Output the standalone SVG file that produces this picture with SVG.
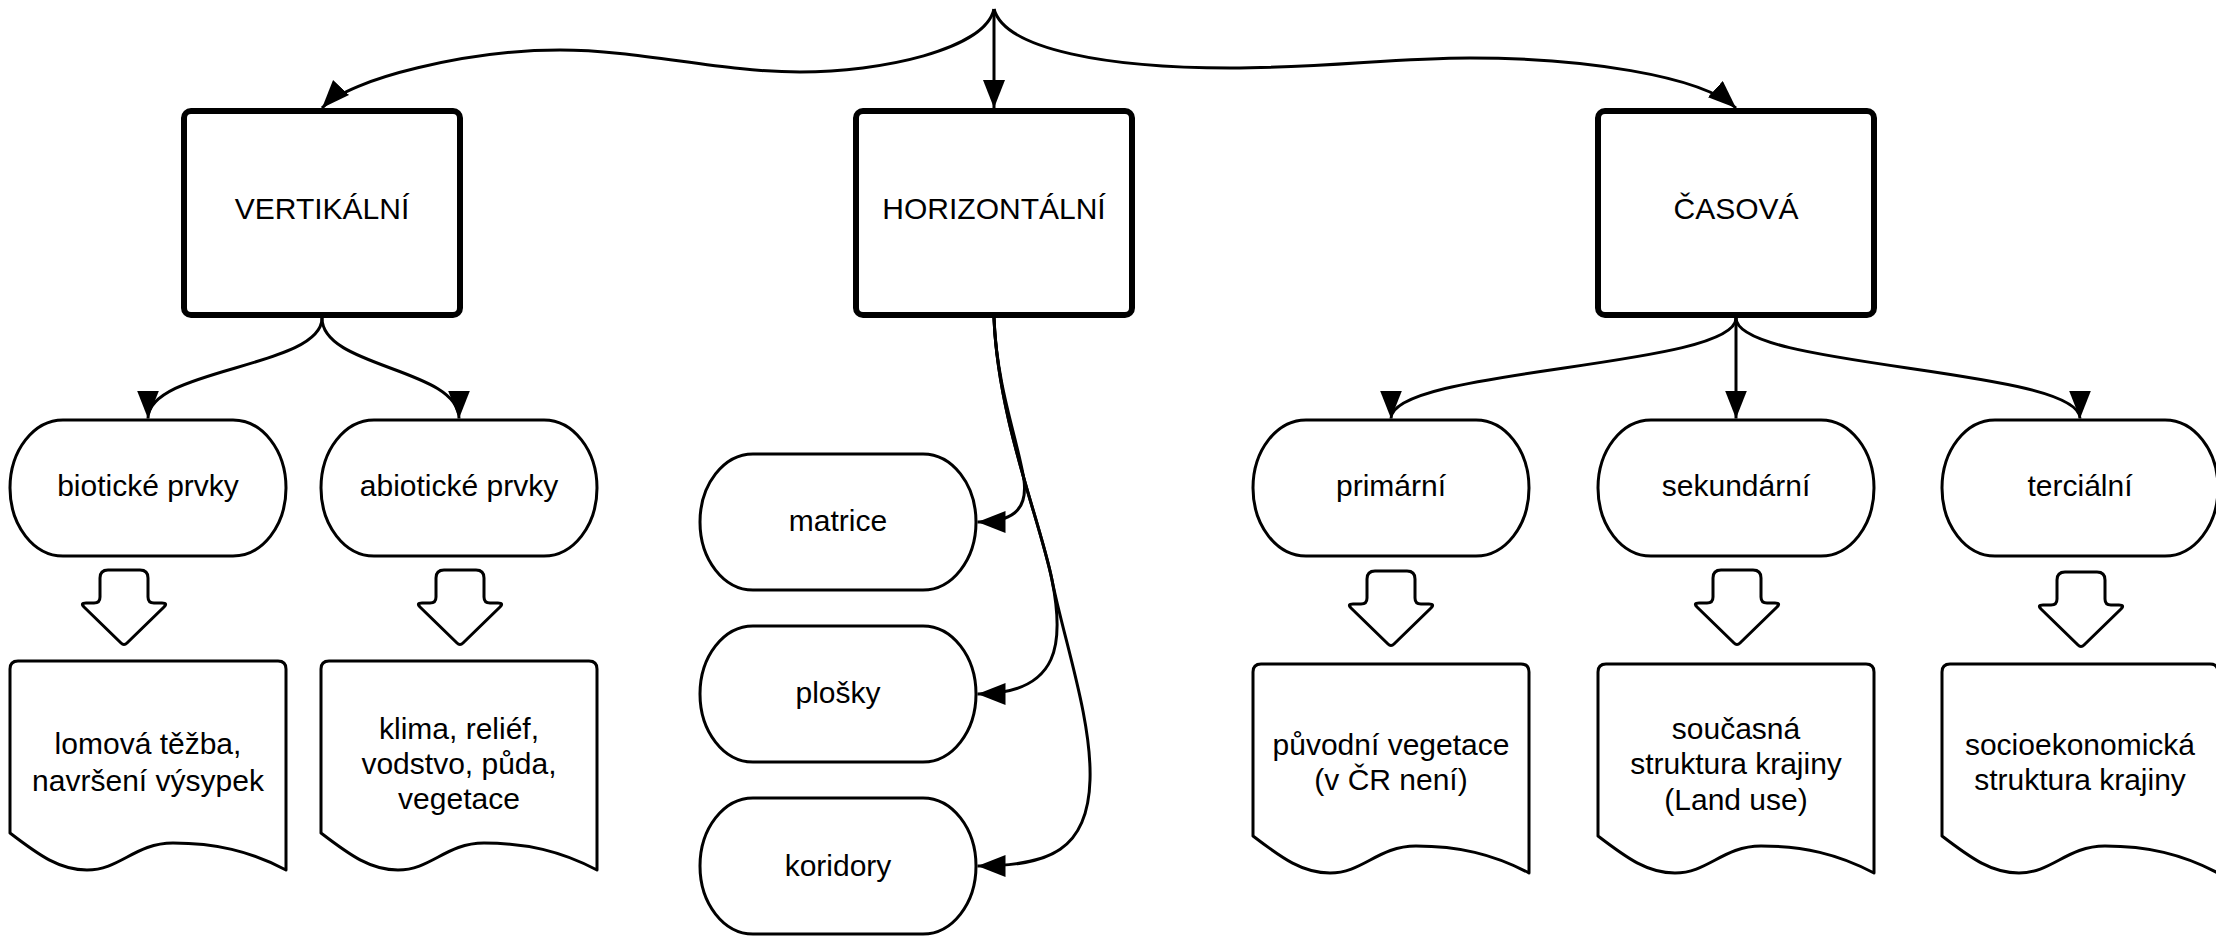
<svg xmlns="http://www.w3.org/2000/svg" width="2216" height="939" viewBox="0 0 2216 939">
<style>
.box{fill:#fff;stroke:#000;stroke-width:6}
.pill{fill:#fff;stroke:#000;stroke-width:3}
.doc{fill:#fff;stroke:#000;stroke-width:3;stroke-linejoin:round}
.barrow{fill:#fff;stroke:#000;stroke-width:3;stroke-linejoin:round}
.conn{fill:none;stroke:#000;stroke-width:3}
text{font-family:"Liberation Sans",Arial,sans-serif;font-size:30px;fill:#000;text-anchor:middle}
</style>
<defs>
<marker id="ah" markerUnits="userSpaceOnUse" markerWidth="29" markerHeight="23" refX="28" refY="11" orient="auto">
<path d="M0,0 L28,11 L0,22 Z" fill="#000"/>
</marker>
</defs>
<rect width="2216" height="939" fill="#fff"/>

<g id="connectors">
<path class="conn" marker-end="url(#ah)" d="M994,9 C985,50 880,72 800,72 C720,72 640,50 560,50 C470,50 350,78 322,108"/>
<path class="conn" marker-end="url(#ah)" d="M994,9 L994,108"/>
<path class="conn" marker-end="url(#ah)" d="M994,9 C1005,50 1110,68 1230,68 C1330,68 1390,58 1470,58 C1580,58 1700,75 1736,108"/>
<path class="conn" marker-end="url(#ah)" d="M322,318 C322,368 148,368 148,418.5"/>
<path class="conn" marker-end="url(#ah)" d="M322,318 C322,368 459,368 459,418.5"/>
<path class="conn" marker-end="url(#ah)" d="M994,318 C997,390 1018,440 1024,480 C1028,512 1010,522 977.5,522"/>
<path class="conn" marker-end="url(#ah)" d="M994,318 C998,420 1040,520 1052,580 C1064,640 1062,694 977.5,694"/>
<path class="conn" marker-end="url(#ah)" d="M994,318 C998,420 1040,520 1052,580 C1064,640 1092,720 1090,780 C1088,850 1050,866 977.5,866"/>
<path class="conn" marker-end="url(#ah)" d="M1736,318 C1736,368 1391,368 1391,418.5"/>
<path class="conn" marker-end="url(#ah)" d="M1736,318 L1736,418.5"/>
<path class="conn" marker-end="url(#ah)" d="M1736,318 C1736,368 2080,368 2080,418.5"/>
</g>

<g id="vertikalni">
<rect class="box" x="184" y="111" width="276" height="204" rx="7"/>
<text x="322" y="219">VERTIKÁLNÍ</text>
</g>
<g id="horizontalni">
<rect class="box" x="856" y="111" width="276" height="204" rx="7"/>
<text x="994" y="219">HORIZONTÁLNÍ</text>
</g>
<g id="casova">
<rect class="box" x="1598" y="111" width="276" height="204" rx="7"/>
<text x="1736" y="219">ČASOVÁ</text>
</g>

<g id="bioticke">
<rect class="pill" x="10" y="420" width="276" height="136" rx="53" ry="68"/>
<text x="148" y="496">biotické prvky</text>
</g>
<g id="abioticke">
<rect class="pill" x="321" y="420" width="276" height="136" rx="53" ry="68"/>
<text x="459" y="496">abiotické prvky</text>
</g>
<g id="matrice">
<rect class="pill" x="700" y="454" width="276" height="136" rx="53" ry="68"/>
<text x="838" y="531">matrice</text>
</g>
<g id="plosky">
<rect class="pill" x="700" y="626" width="276" height="136" rx="53" ry="68"/>
<text x="838" y="703">plošky</text>
</g>
<g id="koridory">
<rect class="pill" x="700" y="798" width="276" height="136" rx="53" ry="68"/>
<text x="838" y="876">koridory</text>
</g>
<g id="primarni">
<rect class="pill" x="1253" y="420" width="276" height="136" rx="53" ry="68"/>
<text x="1391" y="496">primární</text>
</g>
<g id="sekundarni">
<rect class="pill" x="1598" y="420" width="276" height="136" rx="53" ry="68"/>
<text x="1736" y="496">sekundární</text>
</g>
<g id="tercialni">
<rect class="pill" x="1942" y="420" width="276" height="136" rx="53" ry="68"/>
<text x="2080" y="496">terciální</text>
</g>

<g id="arrow-bioticke">
<path class="barrow" transform="translate(124,570)" d="M-24,8 Q-24,0 -16,0 L16,0 Q24,0 24,8 L24,27 Q24,33 30,33 L38,33 Q44,33 40,37 L3,73 Q0,76 -3,73 L-40,37 Q-44,33 -38,33 L-30,33 Q-24,33 -24,27 Z"/>
</g>
<g id="arrow-abioticke">
<path class="barrow" transform="translate(460,570)" d="M-24,8 Q-24,0 -16,0 L16,0 Q24,0 24,8 L24,27 Q24,33 30,33 L38,33 Q44,33 40,37 L3,73 Q0,76 -3,73 L-40,37 Q-44,33 -38,33 L-30,33 Q-24,33 -24,27 Z"/>
</g>
<g id="arrow-primarni">
<path class="barrow" transform="translate(1391,571)" d="M-24,8 Q-24,0 -16,0 L16,0 Q24,0 24,8 L24,27 Q24,33 30,33 L38,33 Q44,33 40,37 L3,73 Q0,76 -3,73 L-40,37 Q-44,33 -38,33 L-30,33 Q-24,33 -24,27 Z"/>
</g>
<g id="arrow-sekundarni">
<path class="barrow" transform="translate(1737,570)" d="M-24,8 Q-24,0 -16,0 L16,0 Q24,0 24,8 L24,27 Q24,33 30,33 L38,33 Q44,33 40,37 L3,73 Q0,76 -3,73 L-40,37 Q-44,33 -38,33 L-30,33 Q-24,33 -24,27 Z"/>
</g>
<g id="arrow-tercialni">
<path class="barrow" transform="translate(2081,572)" d="M-24,8 Q-24,0 -16,0 L16,0 Q24,0 24,8 L24,27 Q24,33 30,33 L38,33 Q44,33 40,37 L3,73 Q0,76 -3,73 L-40,37 Q-44,33 -38,33 L-30,33 Q-24,33 -24,27 Z"/>
</g>

<g id="doc-bioticke">
<path class="doc" transform="translate(10,661)" d="M0,8 Q0,0 8,0 L268,0 Q276,0 276,8 L276,209 C240,190 205,182 163,182 C125,182 110,209 77,209 C50,209 30,195 0,172 Z"/>
<text x="148" y="754">lomová těžba,</text>
<text x="148" y="791">navršení výsypek</text>
</g>
<g id="doc-abioticke">
<path class="doc" transform="translate(321,661)" d="M0,8 Q0,0 8,0 L268,0 Q276,0 276,8 L276,209 C240,190 205,182 163,182 C125,182 110,209 77,209 C50,209 30,195 0,172 Z"/>
<text x="459" y="739">klima, reliéf,</text>
<text x="459" y="774">vodstvo, půda,</text>
<text x="459" y="809">vegetace</text>
</g>
<g id="doc-primarni">
<path class="doc" transform="translate(1253,664)" d="M0,8 Q0,0 8,0 L268,0 Q276,0 276,8 L276,209 C240,190 205,182 163,182 C125,182 110,209 77,209 C50,209 30,195 0,172 Z"/>
<text x="1391" y="755">původní vegetace</text>
<text x="1391" y="790">(v ČR není)</text>
</g>
<g id="doc-sekundarni">
<path class="doc" transform="translate(1598,664)" d="M0,8 Q0,0 8,0 L268,0 Q276,0 276,8 L276,209 C240,190 205,182 163,182 C125,182 110,209 77,209 C50,209 30,195 0,172 Z"/>
<text x="1736" y="739">současná</text>
<text x="1736" y="774">struktura krajiny</text>
<text x="1736" y="810">(Land use)</text>
</g>
<g id="doc-tercialni">
<path class="doc" transform="translate(1942,664)" d="M0,8 Q0,0 8,0 L268,0 Q276,0 276,8 L276,209 C240,190 205,182 163,182 C125,182 110,209 77,209 C50,209 30,195 0,172 Z"/>
<text x="2080" y="755">socioekonomická</text>
<text x="2080" y="790">struktura krajiny</text>
</g>
</svg>
